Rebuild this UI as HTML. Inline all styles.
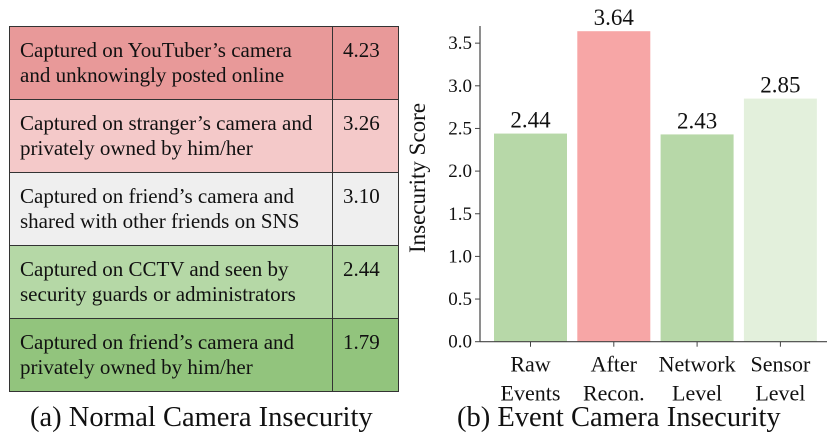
<!DOCTYPE html>
<html><head><meta charset="utf-8"><style>
body{margin:0;width:838px;height:444px;background:#fff;font-family:"Liberation Serif",serif;overflow:hidden;position:relative}
*{font-family:"Liberation Serif",serif}
table{position:absolute;left:9px;top:26px;border-collapse:collapse;width:390px}
td{border:1.5px solid #333;height:73px;font-size:21px;line-height:25px;vertical-align:top;padding:11px 0 0 10px;color:#111;box-sizing:border-box;white-space:nowrap}
td.v{width:66px;padding-left:10px}
.cap{position:absolute;font-size:28.5px;color:#111;white-space:nowrap}
</style></head><body>
<table>
<tr style="background:#e89999"><td>Captured on YouTuber’s camera<br>and unknowingly posted online</td><td class="v">4.23</td></tr>
<tr style="background:#f4c9c9"><td>Captured on stranger’s camera and<br>privately owned by him/her</td><td class="v">3.26</td></tr>
<tr style="background:#efefef"><td>Captured on friend’s camera and<br>shared with other friends on SNS</td><td class="v">3.10</td></tr>
<tr style="background:#b5d8a6"><td>Captured on CCTV and seen by<br>security guards or administrators</td><td class="v">2.44</td></tr>
<tr style="background:#92c47d"><td>Captured on friend’s camera and<br>privately owned by him/her</td><td class="v">1.79</td></tr>
</table>
<div class="cap" style="left:30px;top:402px">(a) Normal Camera Insecurity</div>
<div class="cap" style="left:457px;top:402px">(b) Event Camera Insecurity</div>
<svg id="chart" width="838" height="444" style="position:absolute;left:0;top:0" font-family="Liberation Serif, serif"></svg>
<script>
const categories=[["Raw","Events"],["After","Recon."],["Network","Level"],["Sensor","Level"]];
const values=[2.44,3.64,2.43,2.85];
const labels=["2.44","3.64","2.43","2.85"];
const colors=["#b7d8a8","#f7a6a6","#b7d8a8","#e3f0dc"];
const ticks=[0,0.5,1,1.5,2,2.5,3,3.5];
const tickLabels=["0.0","0.5","1.0","1.5","2.0","2.5","3.0","3.5"];
const NS="http://www.w3.org/2000/svg",svg=document.getElementById('chart');
const x0=480,x1=827,yb=341.7,k=85.3;
const y=v=>yb-v*k;
const bx=i=>494+i*83.3;
function mk(t,a,txt){const e=document.createElementNS(NS,t);for(const n in a)e.setAttribute(n,a[n]);if(txt!=null)e.textContent=txt;svg.appendChild(e);return e;}
values.forEach((v,i)=>{
 const r=mk('rect',{x:bx(i),y:y(v),width:73,height:yb-y(v),fill:colors[i]});
 
 
 const t=mk('text',{x:bx(i)+36.5,y:y(v)-6,'text-anchor':'middle','font-size':23,fill:'#111'},labels[i]);
 
 
 mk('line',{x1:bx(i)+36.5,x2:bx(i)+36.5,y1:yb,y2:yb+5,stroke:'#444'});
 categories[i].forEach((s,j)=>{const c=mk('text',{x:bx(i)+36.5,y:yb+30+j*29,'text-anchor':'middle','font-size':22,fill:'#111'},s);
 
 });
});
ticks.forEach((v,i)=>{
 mk('line',{x1:x0-5,x2:x0,y1:y(v),y2:y(v),stroke:'#444'});
 const t=mk('text',{x:x0-8,y:y(v)+6,'text-anchor':'end','font-size':19,fill:'#111'},tickLabels[i]);
 
 
});
mk('line',{x1:x0,x2:x0,y1:26,y2:yb,stroke:'#444','stroke-width':1.2});
mk('line',{x1:x0,x2:x1,y1:yb,y2:yb,stroke:'#444','stroke-width':1.2});
const yt=mk('text',{x:0,y:0,transform:'translate(425,178) rotate(-90)','text-anchor':'middle','font-size':23,fill:'#111'},'Insecurity Score');


</script>
</body></html>
